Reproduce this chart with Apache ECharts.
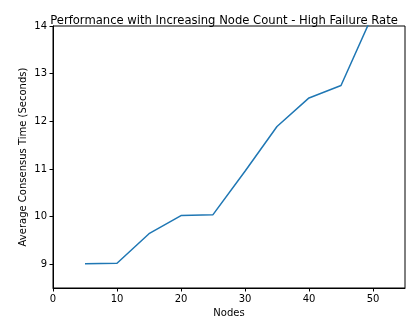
<!DOCTYPE html>
<html>
<head>
<meta charset="utf-8">
<script src="https://cdn.jsdelivr.net/npm/echarts@6/dist/echarts.min.js"></script>
<style>html,body{margin:0;padding:0;background:#fff}#c{width:408px;height:320px}</style>
</head>
<body>
<div id="c"></div>
<script>
const nodes = [5, 10, 15, 20, 25, 30, 35, 40, 45, 50];
const consensusTime = [9.01, 9.02, 9.64, 10.02, 10.04, 10.95, 11.89, 12.49, 12.75, 14.25];
const xTicks = [0, 10, 20, 30, 40, 50];
const yTicks = [9, 10, 11, 12, 13, 14];

const font = 'DejaVu Sans';
const chart = echarts.init(document.getElementById('c'), null, {renderer: 'canvas'});
chart.setOption({
  animation: false,
  backgroundColor: '#fff',
  title: {
    text: 'Performance with Increasing Node Count - High Failure Rate',
    left: 219, top: 10, textAlign: 'center',
    textStyle: {fontFamily: font, fontSize: 11.6, fontWeight: 'normal', color: '#000'}
  },
  grid: {left: 53, right: 3, top: 26, bottom: 32, show: true, borderColor: '#000', borderWidth: 1,
    backgroundColor: 'transparent', outerBoundsMode: 'none', containLabel: false},
  xAxis: {
    type: 'value', min: 0, max: 55, interval: 10,
    name: 'Nodes', nameLocation: 'middle', nameGap: 19,
    nameTextStyle: {fontFamily: font, fontSize: 10, color: '#000'},
    axisLine: {show: true, lineStyle: {color: '#000', width: 1}},
    axisTick: {show: true, length: 3.5, inside: false, lineStyle: {color: '#000'}},
    axisLabel: {fontFamily: font, fontSize: 10, color: '#000', margin: 6,
      formatter: v => xTicks.includes(v) ? String(v) : '', showMaxLabel: false},
    splitLine: {show: false}
  },
  yAxis: {
    type: 'value', min: 8.5, max: 14, splitNumber: 5,
    name: 'Average Consensus Time (Seconds)', nameLocation: 'middle', nameGap: 25,
    nameMoveOverlap: false,
    nameTextStyle: {fontFamily: font, fontSize: 10, color: '#000'},
    axisLine: {show: true, lineStyle: {color: '#000', width: 1}},
    axisTick: {show: true, length: 3.5, lineStyle: {color: '#000'}},
    axisLabel: {fontFamily: font, fontSize: 10, color: '#000', margin: 6,
      formatter: v => yTicks.includes(v) ? String(v) : '', showMinLabel: false},
    splitLine: {show: false}
  },
  series: [{
    type: 'line',
    data: nodes.map((n, i) => [n, consensusTime[i]]),
    showSymbol: false,
    clip: true,
    lineStyle: {color: '#1f77b4', width: 1.5},
    itemStyle: {color: '#1f77b4'}
  }]
});
</script>
</body>
</html>
